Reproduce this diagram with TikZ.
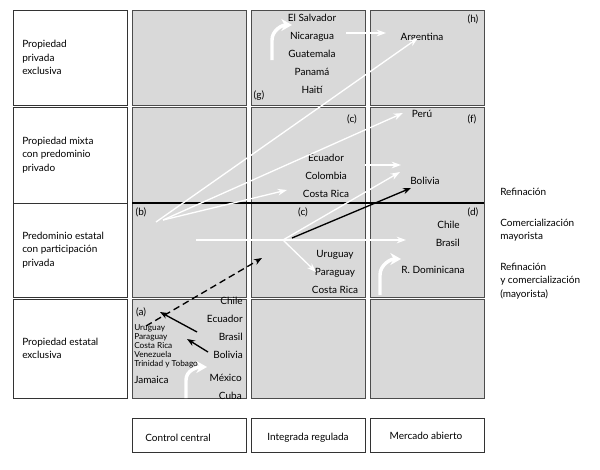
\documentclass[tikz,border=0pt]{standalone}
\usepackage{fontspec}
\setmainfont{Lato}
\usetikzlibrary{arrows.meta}

\tikzset{
    cell/.style={fill=black!15, draw=black!70, line width=0.6pt},
    lbox/.style={draw=black!80, line width=0.5pt, fill=white},
    txt/.style={font=\fontsize{7.5}{10}\selectfont, inner sep=0pt, align=center},
    small/.style={font=\fontsize{6.2}{6.8}\selectfont, inner sep=0pt, align=left, anchor=west},
    warrow/.style={white, line width=1pt, -{Stealth[length=7pt,width=5pt]}},
    barrow/.style={black, line width=1pt, -{Stealth[length=6pt,width=4.5pt]}},
    turnarrow/.style={white, line width=2.6pt, -{Stealth[length=8pt,width=9pt]}}
}

\begin{document}
\begin{tikzpicture}[x=0.75pt, y=-0.75pt]
        \useasboundingbox (0,0) rectangle (600,469);

        % left labels
        \foreach \top/\bot/\n in {10/105/r1, 107/203/r2, 203/297/r3, 299/398/r4} {
            \draw[lbox] (13,\top) rectangle (127,\bot);
            \coordinate (\n) at (22,{(\top+\bot)/2});
        }
        \node[txt, anchor=west, align=left] (l1) at (r1) {Propiedad\\privada\\exclusiva};
        \node[txt, anchor=west, align=left] (l2) at (r2) {Propiedad mixta\\con predominio\\privado};
        \node[txt, anchor=west, align=left] (l3) at (r3) {Predominio estatal\\con participación\\privada};
        \node[txt, anchor=west, align=left] (l4) at (r4) {Propiedad estatal\\exclusiva};

        % grid of cells
        \foreach \x/\xx in {132/246, 251/365, 370/484} {
            \foreach \top/\bot in {10/105, 107/203, 203/297, 299/398} {
                \draw[cell] (\x,\top) rectangle (\xx,\bot);
            }
        }
        \draw[line width=1.4pt] (132,203) -- (484,203);

        % bottom labels
        \draw[lbox] (132,418) rectangle (246,452);
        \draw[lbox] (251,418) rectangle (365,452);
        \draw[lbox] (370,418) rectangle (484,452);
        \node[txt] (c1) at (178,438) {Control central};
        \node[txt] (c2) at (308,438) {Integrada regulada};
        \node[txt] (c3) at (426,436) {Mercado abierto};

        % right legend
        \node[txt, anchor=west, align=left] (ref) at (500,192) {Refinación};
        \node[txt, anchor=west, align=left] (com) at (500,230) {Comercialización\\mayorista};
        \node[txt, anchor=west, align=left] (rcm) at (500,281) {Refinación\\y comercialización\\(mayorista)};

        % cell tags
        \node[txt] (h) at (473,19) {(h)};
        \node[txt] (g) at (259,96) {(g)};
        \node[txt] (c) at (352,119) {(c)};
        \node[txt] (f) at (472,119) {(f)};
        \node[txt] (b) at (141,212) {(b)};
        \node[txt] (cc) at (303,212) {(c)};
        \node[txt] (d) at (473,212) {(d)};
        \node[txt] (a) at (141,312) {(a)};

        % countries
        \node[txt, font=\fontsize{7.5}{13.5}\selectfont] (salv) at (312,54) {El Salvador\\Nicaragua\\Guatemala\\Panamá\\Haití};
        \node[txt] (arg) at (422,38) {Argentina};
        \node[txt] (peru) at (422,114) {Perú};
        \node[txt, font=\fontsize{7.5}{13.5}\selectfont] (ecu) at (326,176) {Ecuador\\Colombia\\Costa Rica};
        \node[txt] (bol) at (425,181) {Bolivia};
        \node[txt, font=\fontsize{7.5}{13.5}\selectfont, align=right, anchor=east] (chb) at (460,234) {Chile\\Brasil};
        \node[txt] (rdom) at (433,270) {R. Dominicana};
        \node[txt, font=\fontsize{7.5}{13.5}\selectfont] (uru) at (335,272) {Uruguay\\Paraguay\\Costa Rica};
        \node[txt, font=\fontsize{7.5}{13.5}\selectfont, align=right, anchor=east] (chi) at (243,328) {Chile\\Ecuador\\Brasil\\Bolivia};
        \node[small, align=left] (uru2) at (134,346) {Uruguay\\Paraguay\\Costa Rica\\Venezuela\\Trinidad y Tobago};
        \node[txt, anchor=west] (jam) at (134,380) {Jamaica};
        \node[txt, font=\fontsize{7.5}{13.5}\selectfont, align=right, anchor=east] (mex) at (242,387) {México\\Cuba};

        % arrow end points
        \coordinate (pb1) at (156,222);
        \coordinate (pb2) at (163,220);
        \coordinate (pc) at (283,240);
        \coordinate (pc2) at (292,238);
        \coordinate (pw) at (196,240);
        \coordinate (pa) at (146,326);

        \begin{scope}
            \draw[warrow] (pb1) -- (418,38);
            \draw[warrow] (pb2) -- (403,113);
            \draw[warrow] (pb2) -- (287,190);
            \draw[warrow] (346,33) -- (386,33);
            \draw[warrow] (365,165) -- (401,165);
            \draw[warrow] (pc) -- (400,172);
            \draw[warrow] (pc) -- (316,272);
            \draw[warrow] (pw) -- (406,240);
            \draw[barrow] (pc2) -- (411,188);
            \draw[barrow, dash pattern=on 5pt off 3pt] (pa) -- (262,258);
            \draw[barrow] (197,332) -- (160,312);
            \draw[barrow] (208,352) -- (187,339);
        \end{scope}

        % bent arrows
        \draw[turnarrow] (272,60) -- (272,40) to[out=90, in=180] (292,25);
        \draw[turnarrow] (380,295) -- (380,275) to[out=90, in=180] (401,259);
        \draw[turnarrow] (186,398) -- (186,380) to[out=90, in=180] (207,367);
    \end{tikzpicture}
\end{document}
